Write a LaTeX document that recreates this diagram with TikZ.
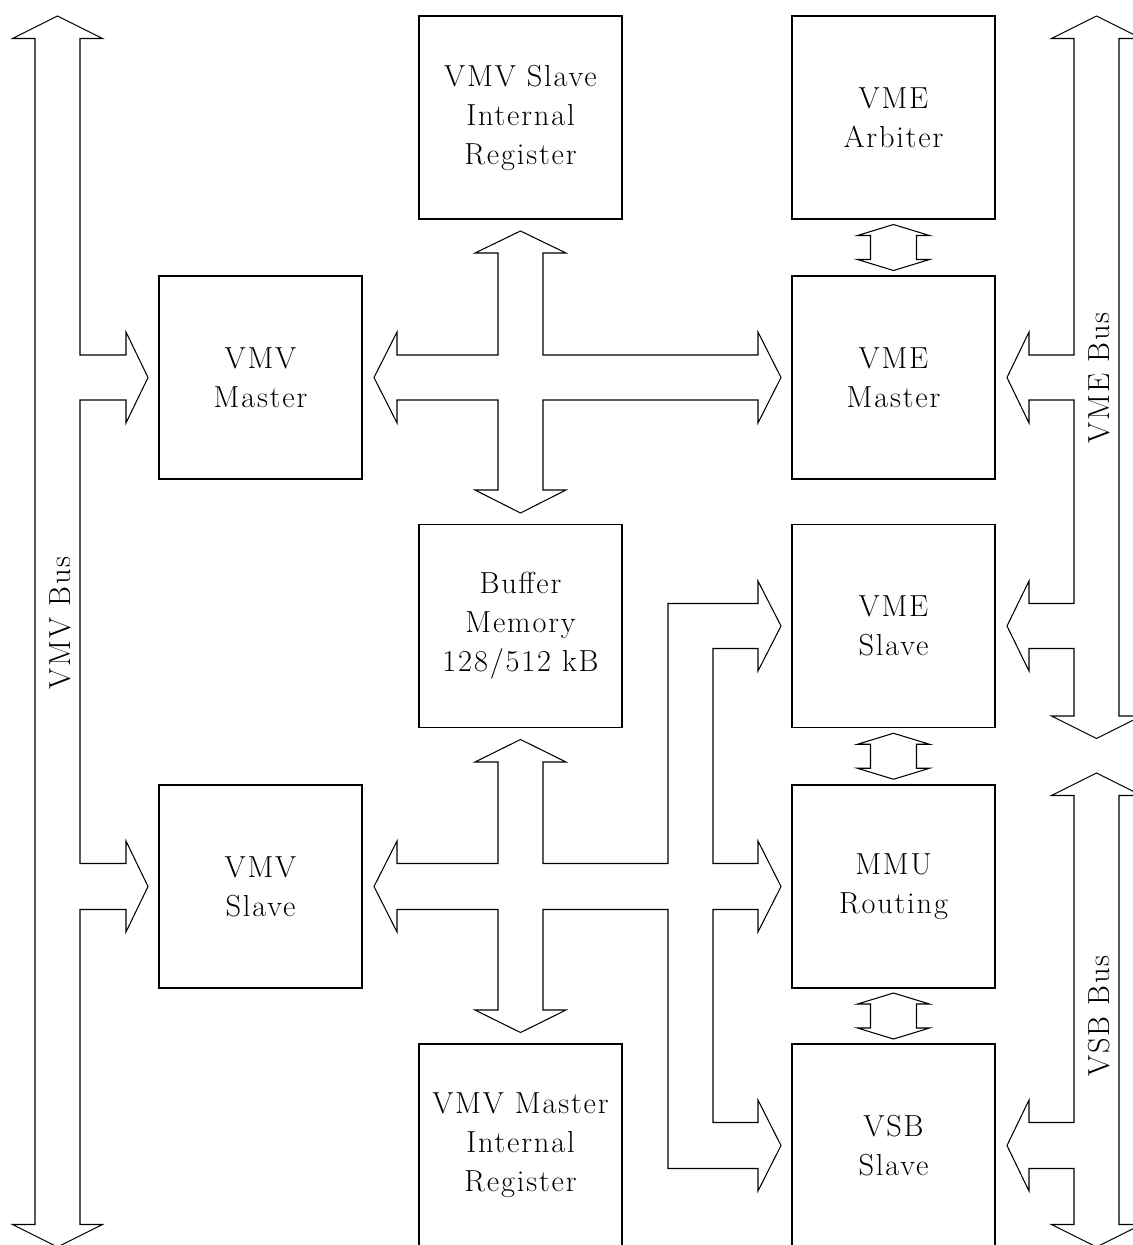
\documentclass[tikz,border=0pt]{standalone}
\usepackage{fontspec}
\usepackage{tikz}
\usetikzlibrary{calc}
\newfontfamily\boxfam{Latin Modern Roman}[LetterSpace=6]
\newcommand{\boxfont}{\boxfam\fontsize{17.3}{22.2}\selectfont}
\tikzset{box/.style = {shape = rectangle, draw, line width = 0.6pt, minimum width = 40.6mm, minimum height = 40.6mm, inner sep = 0pt, align = center, font = \boxfont}}
\tikzset{blockarrow/.style = {draw, line width = 0.6pt, line join = miter}}
\tikzset{buslabel/.style = {rotate = 90, inner sep = 0pt, font = \boxfont}}
% small double arrow between two stacked boxes
\newcommand{\linkarrow}[2]{\draw[blockarrow] ($(#1.south)!0.5!(#2.north)$) ++(0,-23) -- ++(36,11) -- ++(-13,0) -- ++(0,24) -- ++(13,0) -- ++(-36,11) -- ++(-36,-11) -- ++(13,0) -- ++(0,-24) -- ++(-13,0) -- cycle;}

\begin{document}
\begin{tikzpicture}[x = 0.2mm, y = -0.2mm]
			\useasboundingbox (0, 0) rectangle (1133, 1245);
			\clip (0, 0) rectangle (1133, 1245);

			\node[box] (vmvsir) at (520.5, 117.5) {VMV Slave\\Internal\\Register};
			\node[box] (vmearb) at (893.5, 117.5) {VME\\Arbiter};
			\node[box] (vmvmas) at (260.5, 377.5) {VMV\\Master};
			\node[box] (vmemas) at (893.5, 377.5) {VME\\Master};
			\node[box] (buffer) at (520.5, 626) {Buffer\\Memory\\128/512 kB};
			\node[box] (vmesla) at (893.5, 626) {VME\\Slave};
			\node[box] (vmvsla) at (260.5, 886.5) {VMV\\Slave};
			\node[box] (mmu) at (893.5, 886.5) {MMU\\Routing};
			\node[box] (vmvmir) at (520.5, 1145.5) {VMV Master\\Internal\\Register};
			\node[box] (vsbsla) at (893.5, 1145.5) {VSB\\Slave};

			% buses
			\draw[blockarrow] (57.5, 16) -- (102.5, 38.5) -- (80, 38.5) -- (80, 355) -- (126, 355) -- (126, 332) -- (148, 377.5) -- (126, 423) -- (126, 400) -- (80, 400) -- (80, 863.5) -- (126, 863.5) -- (126, 841) -- (148, 886.5) -- (126, 932) -- (126, 909.5) -- (80, 909.5) -- (80, 1224.5) -- (102.5, 1224.5) -- (57.5, 1247) -- (12.5, 1224.5) -- (35, 1224.5) -- (35, 38.5) -- (12.5, 38.5) -- cycle;
			\draw[blockarrow] (1096.5, 16) -- (1141.5, 38.5) -- (1119, 38.5) -- (1119, 716) -- (1141.5, 716) -- (1096.5, 738.5) -- (1051.5, 716) -- (1074, 716) -- (1074, 648.5) -- (1029, 648.5) -- (1029, 671) -- (1007, 626) -- (1029, 581) -- (1029, 603.5) -- (1074, 603.5) -- (1074, 400) -- (1029, 400) -- (1029, 423) -- (1007, 377.5) -- (1029, 332) -- (1029, 355) -- (1074, 355) -- (1074, 38.5) -- (1051.5, 38.5) -- cycle;
			\draw[blockarrow] (1096.5, 773) -- (1141.5, 795.5) -- (1119, 795.5) -- (1119, 1224.5) -- (1141.5, 1224.5) -- (1096.5, 1247) -- (1051.5, 1224.5) -- (1074, 1224.5) -- (1074, 1168.5) -- (1029, 1168.5) -- (1029, 1191) -- (1007, 1145.5) -- (1029, 1100) -- (1029, 1122.5) -- (1074, 1122.5) -- (1074, 795.5) -- (1051.5, 795.5) -- cycle;

			\node[buslabel] (vmvbus) at (60, 623) {VMV Bus};
			\node[buslabel] (vmebus) at (1099, 378) {VME Bus};
			\node[buslabel] (vsbbus) at (1099, 1016) {VSB Bus};

			% internal data paths
			\draw[blockarrow] (374, 377.5) -- (397, 332) -- (397, 355) -- (498, 355) -- (498, 253) -- (475, 253) -- (520.5, 231) -- (566, 253) -- (543, 253) -- (543, 355) -- (758, 355) -- (758, 332) -- (781, 377.5) -- (758, 423) -- (758, 400) -- (543, 400) -- (543, 490) -- (566, 490) -- (520.5, 513) -- (475, 490) -- (498, 490) -- (498, 400) -- (397, 400) -- (397, 423) -- cycle;
			\draw[blockarrow] (374, 886.5) -- (397, 841) -- (397, 863.5) -- (498, 863.5) -- (498, 762) -- (475, 762) -- (520.5, 739.5) -- (566, 762) -- (543, 762) -- (543, 863.5) -- (668, 863.5) -- (668, 603.5) -- (758, 603.5) -- (758, 581) -- (781, 626) -- (758, 671) -- (758, 648.5) -- (713, 648.5) -- (713, 863.5) -- (758, 863.5) -- (758, 841) -- (781, 886.5) -- (758, 932) -- (758, 909.5) -- (713, 909.5) -- (713, 1122.5) -- (758, 1122.5) -- (758, 1100) -- (781, 1145.5) -- (758, 1191) -- (758, 1168.5) -- (668, 1168.5) -- (668, 909.5) -- (543, 909.5) -- (543, 1010) -- (566, 1010) -- (520.5, 1032.5) -- (475, 1010) -- (498, 1010) -- (498, 909.5) -- (397, 909.5) -- (397, 932) -- cycle;

			\linkarrow{vmearb}{vmemas}
			\linkarrow{vmesla}{mmu}
			\linkarrow{mmu}{vsbsla}
		\end{tikzpicture}
\end{document}
